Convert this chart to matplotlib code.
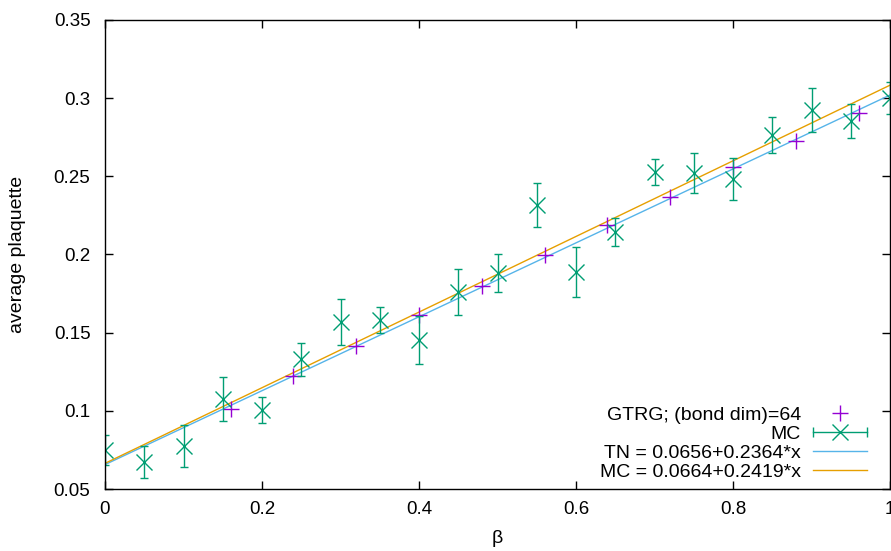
import numpy as np
import matplotlib
matplotlib.use('Agg')
import matplotlib.pyplot as plt
from matplotlib.lines import Line2D
from matplotlib.legend_handler import HandlerBase

plt.rcParams['font.family'] = ['Liberation Sans', 'DejaVu Sans']

# GTRG (bond dim 64) tensor network results
beta_tn = [0.16, 0.24, 0.32, 0.40, 0.48, 0.56, 0.64, 0.72, 0.80, 0.88, 0.96]
plaq_tn = [0.1012, 0.1223, 0.1415, 0.1613, 0.1798, 0.1997, 0.2189, 0.2368,
           0.2559, 0.2726, 0.2905]

# Monte Carlo results with error bars
beta_mc = [0.00, 0.05, 0.10, 0.15, 0.20, 0.25, 0.30, 0.35, 0.40, 0.45, 0.50,
           0.55, 0.60, 0.65, 0.70, 0.75, 0.80, 0.85, 0.90, 0.95, 1.00]
plaq_mc = [0.0749, 0.0673, 0.0775, 0.1076, 0.1005, 0.1331, 0.1568, 0.1580,
           0.1453, 0.1760, 0.1880, 0.2316, 0.1888, 0.2144, 0.2528, 0.2520,
           0.2483, 0.2764, 0.2924, 0.2854, 0.3001]
err_mc = [0.0098, 0.0105, 0.0137, 0.0138, 0.0083, 0.0106, 0.0147, 0.0083,
          0.0155, 0.0147, 0.0122, 0.0140, 0.0163, 0.0090, 0.0083, 0.0128,
          0.0134, 0.0115, 0.0140, 0.0106, 0.0100]

# linear fits
fit_tn = (0.0656, 0.2364)
fit_mc = (0.0664, 0.2419)

PURPLE = '#9400d3'
GREEN = '#009e73'
BLUE = '#56b4e9'
ORANGE = '#e69f00'


class HorizErrHandler(HandlerBase):
    '''gnuplot style key entry: horizontal bar with caps and the point in the middle'''
    def create_artists(self, legend, orig_handle, xdescent, ydescent,
                       width, height, fontsize, trans):
        y = height / 2 - ydescent
        x0, x1 = -xdescent, -xdescent + width
        bar = Line2D([x0, x1], [y, y], color=GREEN, lw=1.0)
        caps = Line2D([x0, x1], [y, y], ls='none', marker='|', ms=7,
                      mew=1.0, color=GREEN)
        pt = Line2D([(x0 + x1) / 2], [y], ls='none', marker='x', ms=11.5,
                    mew=1.0, color=GREEN)
        for a in (bar, caps, pt):
            a.set_transform(trans)
        return [bar, caps, pt]


fig = plt.figure(figsize=(8.91, 5.51), dpi=100)
ax = fig.add_axes([105 / 891, 62 / 551, 785 / 891, 469 / 551])

xs = np.linspace(0, 1, 200)
l_tn, = ax.plot(xs, fit_tn[0] + fit_tn[1] * xs, color=BLUE, lw=1.0)
l_mc, = ax.plot(xs, fit_mc[0] + fit_mc[1] * xs, color=ORANGE, lw=1.0)

p_tn, = ax.plot(beta_tn, plaq_tn, linestyle='none', marker='+', color=PURPLE,
                markersize=11.5, markeredgewidth=1.0)
p_mc = ax.errorbar(beta_mc, plaq_mc, yerr=err_mc, fmt='x', color=GREEN,
                   markersize=11.5, markeredgewidth=1.0, elinewidth=1.0,
                   capsize=2.8, capthick=1.0)

ax.set_xlim(0, 1)
ax.set_ylim(0.05, 0.35)
ax.set_xticks([0, 0.2, 0.4, 0.6, 0.8, 1])
ax.set_xticklabels(['0', '0.2', '0.4', '0.6', '0.8', '1'])
ax.set_yticks([0.05, 0.1, 0.15, 0.2, 0.25, 0.3, 0.35])
ax.set_yticklabels(['0.05', '0.1', '0.15', '0.2', '0.25', '0.3', '0.35'])
ax.tick_params(direction='in', top=True, right=True, length=6, width=1.0,
               labelsize=13.5)
ax.tick_params(axis='y', pad=10.5)
ax.tick_params(axis='x', pad=9)
for s in ax.spines.values():
    s.set_linewidth(1.0)

ax.set_xlabel('β', fontsize=14)
ax.set_ylabel('average plaquette', fontsize=14)
ax.xaxis.set_label_coords(0.5, -0.088)
ax.yaxis.set_label_coords(-0.1, 0.5)

ax.legend([p_tn, p_mc, l_tn, l_mc],
          ['GTRG; (bond dim)=64', 'MC', 'TN = 0.0656+0.2364*x',
           'MC = 0.0664+0.2419*x'],
          handler_map={type(p_mc): HorizErrHandler()},
          loc='lower right', bbox_to_anchor=(0.9707, 0.017),
          frameon=False, markerfirst=False, fontsize=14,
          handlelength=2.8, handletextpad=0.6, labelspacing=0.08,
          borderpad=0, borderaxespad=0)

fig.savefig('out.png', dpi=100)
